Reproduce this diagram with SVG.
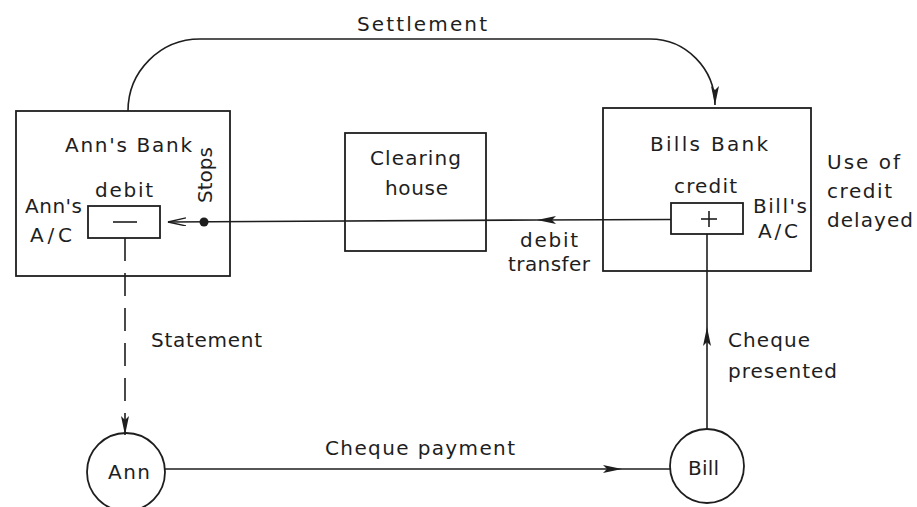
<svg xmlns="http://www.w3.org/2000/svg" width="917" height="507" viewBox="0 0 917 507">
<style>
.t{font-family:"DejaVu Sans","Liberation Sans",sans-serif;font-size:20px;fill:#1e1e1e}
.ln{fill:none;stroke:#1e1e1e;stroke-width:1.6}
.box{fill:none;stroke:#1e1e1e;stroke-width:1.8}
</style>
<defs>
<marker id="arr" markerUnits="userSpaceOnUse" markerWidth="20" markerHeight="10" refX="19" refY="4.5" orient="auto">
<path d="M0,0.5 L19,4.5 L0,8.5 L4,4.5 z" fill="#1e1e1e"/>
</marker>
<marker id="open" markerUnits="userSpaceOnUse" markerWidth="20" markerHeight="10" refX="18" refY="4.5" orient="auto">
<path d="M0,0.5 L18,4.5 L0,8.5" fill="none" stroke="#1e1e1e" stroke-width="1.4"/>
</marker>
</defs>
<rect width="917" height="507" fill="#ffffff"/>

<g id="connectors">
<path class="ln" d="M128,111 A72,72 0 0 1 200,39 L650,39 A65,66 0 0 1 715,105" marker-end="url(#arr)"/>
<line class="ln" x1="671" y1="219.5" x2="537" y2="220" marker-end="url(#arr)"/>
<line class="ln" x1="537" y1="220" x2="168" y2="222" marker-end="url(#open)"/>
<circle cx="204" cy="222" r="4.5" fill="#1e1e1e"/>
<line class="ln" x1="125" y1="238" x2="125" y2="435" stroke-dasharray="23 12" marker-end="url(#arr)"/>
<line class="ln" x1="165" y1="469" x2="622" y2="469" marker-end="url(#arr)"/>
<line class="ln" x1="622" y1="469" x2="670" y2="469"/>
<line class="ln" x1="707" y1="429" x2="707" y2="327" marker-end="url(#arr)"/>
<line class="ln" x1="707" y1="327" x2="707" y2="234"/>
<text class="t" x="357" y="31" textLength="130">Settlement</text>
<text class="t" x="520" y="247" textLength="58">debit</text>
<text class="t" x="508" y="271" textLength="82">transfer</text>
<text class="t" x="151" y="347" textLength="111">Statement</text>
<text class="t" x="325" y="455" textLength="190">Cheque payment</text>
<text class="t" x="728" y="347" textLength="82">Cheque</text>
<text class="t" x="728" y="378" textLength="109">presented</text>
<text class="t" x="212" y="175" text-anchor="middle" textLength="56" transform="rotate(-90 212 175)">Stops</text>
</g>

<g id="anns-bank">
<rect class="box" x="16" y="111" width="214" height="165"/>
<text class="t" x="65" y="152" textLength="127">Ann's Bank</text>
</g>

<g id="anns-ac">
<rect class="box" x="88" y="206" width="72" height="32"/>
<line class="ln" x1="113" y1="222" x2="137" y2="222" stroke-width="2"/>
<text class="t" x="95" y="197" textLength="58">debit</text>
<text class="t" x="25" y="213" textLength="57">Ann's</text>
<text class="t" x="30" y="242" textLength="42">A/C</text>
</g>

<g id="clearing-house">
<rect class="box" x="345" y="133" width="141" height="118"/>
<text class="t" x="370" y="165" textLength="91">Clearing</text>
<text class="t" x="385" y="195" textLength="63">house</text>
</g>

<g id="bills-bank">
<rect class="box" x="603" y="108" width="208" height="163"/>
<text class="t" x="650" y="151" textLength="118">Bills Bank</text>
</g>

<g id="bills-ac">
<rect class="box" x="671" y="203" width="72" height="31"/>
<line class="ln" x1="701" y1="219" x2="717" y2="219" stroke-width="2"/>
<line class="ln" x1="709" y1="211" x2="709" y2="227" stroke-width="2"/>
<text class="t" x="674" y="193" textLength="63">credit</text>
<text class="t" x="753" y="213" textLength="54">Bill's</text>
<text class="t" x="758" y="238" textLength="40">A/C</text>
</g>

<g id="note">
<text class="t" x="827" y="169" textLength="73">Use of</text>
<text class="t" x="827" y="198" textLength="65">credit</text>
<text class="t" x="827" y="227" textLength="86">delayed</text>
</g>

<g id="ann">
<circle class="box" cx="126" cy="472" r="39"/>
<text class="t" x="108" y="479" textLength="42">Ann</text>
</g>

<g id="bill">
<circle class="box" cx="707" cy="466" r="37"/>
<text class="t" x="688" y="475" textLength="31">Bill</text>
</g>
</svg>
